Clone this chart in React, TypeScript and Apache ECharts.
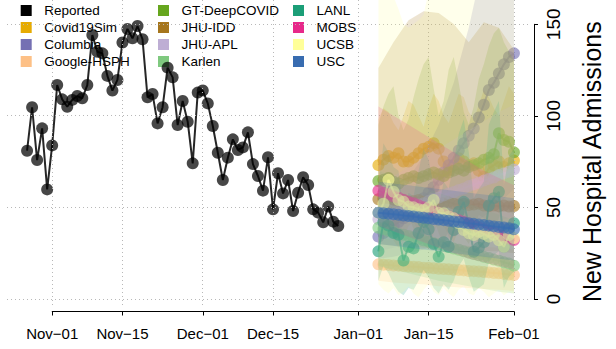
import { useEffect, useRef } from "react";
import * as echarts from "echarts";

// Day numbers are counted from 2020-11-01 (day 0).
const tickDays = [0, 14, 30, 44, 61, 75, 92];
const tickLabels = ["Nov\u221201", "Nov\u221215", "Dec\u221201", "Dec\u221215", "Jan\u221201", "Jan\u221215", "Feb\u221201"];
const yTicks = [0, 50, 100, 150];

// Reported daily admissions, first value on day -5 (Oct 27)
const reportedStartDay = -5;
const reported = [80.9, 104.6, 75.8, 93.1, 59.8, 83.8, 116.7, 108.9, 104.9, 108.6, 110.7, 109.5, 116.7, 144.0, 134.9, 134.0, 121.7, 113.7, 119.5, 139.9, 147.3, 142.2, 148.9, 141.7, 110.0, 111.8, 95.8, 104.6, 126.2, 120.9, 94.9, 108.0, 96.7, 74.0, 112.6, 113.7, 106.7, 94.4, 79.8, 64.9, 77.1, 87.1, 81.3, 82.7, 90.9, 73.6, 67.1, 59.1, 77.3, 48.9, 68.6, 57.6, 64.9, 48.0, 58.0, 66.4, 62.2, 48.9, 47.1, 41.8, 50.4, 42.2, 39.8];

// Forecast days (Jan 5 .. Feb 1)
const forecastDays = [65, 66, 67, 68, 69, 70, 71, 72, 73, 74, 75, 76, 77, 78, 79, 80, 81, 82, 83, 84, 85, 86, 87, 88, 89, 90, 91, 92];
// Days at which smooth intervals were read
const bandDays = [65, 68, 71, 74, 77, 80, 83, 86, 89, 92];

const covid19simMedian = [73, 76, 78, 77, 79.5, 75, 75, 77, 79.5, 82, 83, 85, 82, 75, 70.4, 73, 76.8, 75, 73, 74, 70, 66.7, 71.3, 73, 75, 72, 74, 75.5];
const covid19simLower = [44, 40, 36, 32, 28, 34, 40, 42, 37, 30, 27, 36, 42, 40, 34, 31, 38, 43, 40, 34, 30, 37, 42, 39, 34, 32, 38, 42];
const covid19simUpper = [98, 104, 102, 96, 92, 100, 108, 106, 100, 94, 104, 112, 108, 100, 96, 104, 112, 110, 102, 98, 106, 114, 110, 104, 100, 108, 116, 112];

const columbiaMedian = [34, 36, 38, 40, 42, 44, 46, 49, 52, 55, 58, 61, 65, 69, 73, 77, 81, 85, 89, 93, 99, 106, 114, 118, 123, 128, 132, 134];
const columbiaLower = [22, 23, 25, 27, 30, 34, 39, 45, 52, 60];
const columbiaUpper = [50, 57, 66, 78, 95, 118, 148, 185, 225, 265];

const googleMedian = [18.9, 18.7, 18.6, 18.3, 18.2, 18.0, 17.7, 17.6, 17.4, 17.1, 17.0, 16.8, 16.5, 16.4, 16.2, 15.9, 15.8, 15.6, 15.3, 15.2, 15.0, 14.7, 14.5, 14.2, 14.0, 13.7, 13.4, 13.1];
const googleLower = [10, 9, 8.5, 8, 7, 6.5, 6, 5.5, 5, 4.5];
const googleUpper = [33, 32.5, 32, 31, 30.5, 30, 29, 28.5, 28, 27];

const gtMedian = [64.4, 65, 66, 64, 63, 65, 66, 67, 66, 67, 68, 69, 68, 67, 69, 70, 71, 70, 72, 73, 74, 76, 77, 79, 90.4, 86.7, 85.8, 80];
const gtLower = [48, 44, 38, 34, 42, 50, 46, 38, 32, 40, 48, 44, 36, 30, 38, 46, 42, 34, 30, 38, 46, 44, 40, 36, 44, 52, 48, 46];
const gtUpper = [95, 105, 112, 116, 100, 92, 98, 110, 120, 128, 132, 115, 100, 108, 125, 132, 118, 102, 95, 105, 120, 128, 138, 145, 148, 140, 135, 130];

const jhuIddMedian = [54.4, 54.8, 55, 54.2, 53.6, 54, 53.2, 53.5, 54, 53, 52.6, 53, 52.2, 52.5, 53, 52, 51.6, 52, 51.2, 51.5, 52, 51, 50.6, 51, 50.5, 51, 50.4, 50.7];
const jhuIddLower = [30, 29, 29, 28, 28, 27, 27, 26, 26, 25];
const jhuIddUpper = [126, 140, 152, 157, 156, 150, 140, 151, 148, 136];

const jhuAplMedian = [43.5, 44.4, 45.6, 46.5, 47.3, 48.6, 49.4, 50.5, 51.6, 52.3, 53.5, 54.6, 55.3, 56.5, 57.6, 58.4, 59.5, 60.3, 61.6, 62.5, 63.4, 64.6, 65.5, 66.3, 67.6, 68.5, 69.4, 70.7];
const jhuAplLower = [26, 28, 30, 32, 34, 36, 38, 40, 43, 45];
const jhuAplUpper = [62, 67, 72, 77, 82, 87, 92, 97, 102, 106];

const karlenMedian = [38.9, 38.2, 37.2, 36.7, 35.6, 35.1, 34.4, 33.5, 32.9, 32.0, 31.4, 30.5, 29.9, 29.0, 28.4, 27.5, 26.9, 26.0, 25.4, 24.5, 23.9, 23.0, 22.4, 21.5, 20.9, 20.0, 19.3, 18.2];
const karlenLower = [18, 16, 14, 12, 10, 8.5, 7, 5.5, 4, 3];
const karlenUpper = [70, 67, 64, 61, 58, 55, 52, 49, 46, 43];

const lanlMedian = [26, 42, 40, 36, 35, 21, 28.5, 27.6, 36, 42, 38, 30, 23, 31, 28.5, 37.6, 47.6, 53, 40, 25.8, 28, 31, 51, 55, 58.5, 28.5, 38, 41.3];
const lanlLower = [10, 18, 14, 8, 4, 2, 6, 5, 10, 16, 12, 6, 3, 8, 5, 10, 18, 22, 12, 4, 6, 8, 20, 24, 26, 6, 12, 15];
const lanlUpper = [62, 85, 80, 72, 70, 48, 58, 56, 70, 82, 76, 62, 50, 64, 60, 74, 90, 98, 80, 55, 60, 64, 95, 102, 108, 62, 78, 82];

const mobsMedian = [59.1, 58.0, 57.1, 56.0, 55.2, 54.1, 53.0, 52.2, 51.1, 50.0, 49.1, 48.1, 47.0, 46.1, 45.0, 44.1, 43.0, 42.1, 41.0, 40.1, 39.0, 38.1, 37.0, 36.1, 35.0, 34.1, 33.0, 32.2];
const mobsLower = [40, 37, 34, 31, 28, 25, 22, 20, 18, 16];
const mobsUpper = [105, 100, 95, 90, 85, 80, 75, 70, 66, 62];

const ucsbMedian = [47, 52, 65, 58.5, 54, 53.1, 50.4, 50, 49, 48.6, 50, 54, 47, 46.8, 45, 44, 41.3, 37.6, 35.8, 34.9, 36.7, 35.5, 34, 35, 32, 28.5, 34.9, 33.3];
const ucsbLower = [8, 5, 3, 6, 2, 4, 7, 3, 1, 5, 8, 4, 2, 6, 3, 1, 5, 7, 3, 2, 6, 4, 1, 3, 5, 2, 4, 3];
const ucsbUpper = [170, 174, 171, 165, 158, 150, 148, 150, 152, 155, 168, 173, 170, 166, 164, 170, 174, 172, 168, 172, 176, 174, 170, 175, 178, 174, 176, 180];

const uscMedian = [47.1, 46.8, 46.5, 46.2, 45.9, 45.5, 45.3, 45.0, 44.6, 44.3, 44.0, 43.6, 43.3, 43.0, 42.7, 42.3, 42.0, 41.7, 41.3, 41.0, 40.6, 40.3, 40.0, 39.6, 39.3, 39.0, 38.6, 38.0];
const uscLower = [30, 29, 28, 27, 26, 25, 24, 23, 22, 21];
const uscUpper = [64, 63, 62, 61, 60, 59, 58, 57, 56, 55];

const FONT = "'Liberation Sans', Arial, Helvetica, sans-serif";
const BAND_ALPHA = 0.2;
const POINT_ALPHA = 0.62;

const models = [
  { name: "Covid19Sim", color: "#E6AB02", median: covid19simMedian, bDays: forecastDays, lower: covid19simLower, upper: covid19simUpper },
  { name: "Columbia", color: "#7570B3", median: columbiaMedian, bDays: bandDays, lower: columbiaLower, upper: columbiaUpper },
  { name: "Google-HSPH", color: "#FDC086", median: googleMedian, bDays: bandDays, lower: googleLower, upper: googleUpper },
  { name: "GT-DeepCOVID", color: "#66A61E", median: gtMedian, bDays: forecastDays, lower: gtLower, upper: gtUpper },
  { name: "JHU-IDD", color: "#A6761D", median: jhuIddMedian, bDays: bandDays, lower: jhuIddLower, upper: jhuIddUpper },
  { name: "JHU-APL", color: "#BEAED4", median: jhuAplMedian, bDays: bandDays, lower: jhuAplLower, upper: jhuAplUpper },
  { name: "Karlen", color: "#7FC97F", median: karlenMedian, bDays: bandDays, lower: karlenLower, upper: karlenUpper },
  { name: "LANL", color: "#1B9E77", median: lanlMedian, bDays: forecastDays, lower: lanlLower, upper: lanlUpper },
  { name: "MOBS", color: "#E7298A", median: mobsMedian, bDays: bandDays, lower: mobsLower, upper: mobsUpper },
  { name: "UCSB", color: "#FFFF99", median: ucsbMedian, bDays: forecastDays, lower: ucsbLower, upper: ucsbUpper },
  { name: "USC", color: "#386CB0", median: uscMedian, bDays: bandDays, lower: uscLower, upper: uscUpper },
];

const legendColumns = [
  ["Reported", "Covid19Sim", "Columbia", "Google-HSPH"],
  ["GT-DeepCOVID", "JHU-IDD", "JHU-APL", "Karlen"],
  ["LANL", "MOBS", "UCSB", "USC"],
];
const legendLefts = [20.7, 158, 293];

function buildOption() {
  const series: any[] = [];
  // dotted grid lines
  series.push({
    type: "line",
    name: "grid",
    xAxisIndex: 0,
    yAxisIndex: 0,
    z: 1,
    silent: true,
    data: [[0, 0]],
    showSymbol: false,
    symbol: "none",
    lineStyle: { opacity: 0 },
    markLine: {
      silent: true,
      symbol: ["none", "none"],
      label: { show: false },
      animation: false,
      lineStyle: { type: [1, 3], color: "#b8b8b8", width: 1 },
      data: [...tickDays.map((d) => ({ xAxis: d })), ...yTicks.map((v) => ({ yAxis: v }))],
    },
  });
  series.push({
    type: "line",
    name: "Reported",
    xAxisIndex: 0,
    yAxisIndex: 0,
    z: 2,
    data: reported.map((v, i) => [reportedStartDay + i, v]),
    symbol: "circle",
    symbolSize: 12,
    itemStyle: { color: "#000", opacity: 0.72, borderWidth: 0 },
    lineStyle: { color: "#000", width: 2, opacity: 0.85 },
    emphasis: { disabled: true },
  });
  models.forEach((m, i) => {
    series.push({
      type: "custom",
      name: m.name + " interval",
      xAxisIndex: 0,
      yAxisIndex: 0,
      z: 3 + 2 * i,
      silent: true,
      clip: true,
      data: [[m.bDays[0], m.lower[0]]],
      renderItem: (_params: any, api: any) => {
        const top = m.bDays.map((d, k) => api.coord([d, m.upper[k]]));
        const bottom = m.bDays.map((d, k) => api.coord([d, m.lower[k]])).reverse();
        return {
          type: "polygon",
          shape: { points: top.concat(bottom) },
          style: { fill: m.color, opacity: BAND_ALPHA },
        };
      },
    });
    series.push({
      type: "line",
      name: m.name,
      xAxisIndex: 0,
      yAxisIndex: 0,
      z: 4 + 2 * i,
      data: forecastDays.map((d, k) => [d, m.median[k]]),
      symbol: "circle",
      symbolSize: 12,
      itemStyle: { color: m.color, opacity: POINT_ALPHA, borderWidth: 0 },
      lineStyle: { color: m.color, width: 2, opacity: POINT_ALPHA },
      emphasis: { disabled: true },
    });
  });
  series.push({ type: "line", name: "xaxis-holder", xAxisIndex: 1, yAxisIndex: 1, data: [] });
  series.push({ type: "line", name: "yaxis-holder", xAxisIndex: 2, yAxisIndex: 2, data: [] });

  const legend = legendColumns.map((names, c) => ({
    orient: "vertical",
    left: legendLefts[c],
    top: 3.5,
    padding: 0,
    icon: "rect",
    itemWidth: 11,
    itemHeight: 11,
    itemGap: 3,
    selectedMode: false,
    z: 1,
    itemStyle: { opacity: 1, borderWidth: 0 },
    lineStyle: { opacity: 0 },
    formatter: (name: string) => "\u00a0\u00a0" + name,
    textStyle: { fontFamily: FONT, fontSize: 13.5, color: "#000" },
    data: names,
  }));

  return {
    animation: false,
    backgroundColor: "#fff",
    textStyle: { fontFamily: FONT },
    legend,
    grid: [
      { left: 7, top: 0, width: 523, height: 305 },
      { left: 52.2, top: 290, width: 461.8, height: 21.5 },
      { left: 500, top: 24.3, width: 34, height: 274.7 },
    ],
    xAxis: [
      { gridIndex: 0, type: "value", min: -9, max: 95.2, show: false },
      {
        gridIndex: 1,
        type: "value",
        min: 0,
        max: 92,
        position: "bottom",
        axisLine: { show: true, onZero: false, lineStyle: { color: "#000", width: 1 } },
        axisTick: { show: true, customValues: tickDays, length: 4, inside: false, lineStyle: { color: "#000", width: 1 } },
        axisLabel: {
          customValues: tickDays,
          formatter: (v: number) => tickLabels[tickDays.indexOf(v)] ?? "",
          fontSize: 15,
          fontFamily: FONT,
          color: "#000",
          margin: 14,
        },
        splitLine: { show: false },
      },
      { gridIndex: 2, type: "value", min: 0, max: 1, show: false },
    ],
    yAxis: [
      { gridIndex: 0, type: "value", min: -3.27, max: 163.1, show: false },
      { gridIndex: 1, type: "value", min: 0, max: 1, show: false },
      {
        gridIndex: 2,
        type: "value",
        position: "right",
        min: 0,
        max: 150,
        interval: 50,
        axisLine: { show: true, onZero: false, lineStyle: { color: "#000", width: 1 } },
        axisTick: { show: true, length: 4, inside: false, lineStyle: { color: "#000", width: 1 } },
        axisLabel: { rotate: 90, fontSize: 19, margin: 10, color: "#000", fontFamily: FONT },
        splitLine: { show: false },
        name: "New Hospital Admissions",
        nameLocation: "middle",
        nameRotate: 90,
        nameGap: 45,
        nameTextStyle: { fontSize: 25, fontFamily: FONT, color: "#000" },
      },
    ],
    series,
  };
}

export default function App() {
  const ref = useRef<HTMLDivElement>(null);
  useEffect(() => {
    if (!ref.current) return;
    const chart = echarts.init(ref.current, undefined, { renderer: "svg" });
    chart.setOption(buildOption() as any);
    return () => chart.dispose();
  }, []);
  return <div ref={ref} style={{ position: "fixed", left: 0, top: 0, width: 616, height: 349 }} />;
}
